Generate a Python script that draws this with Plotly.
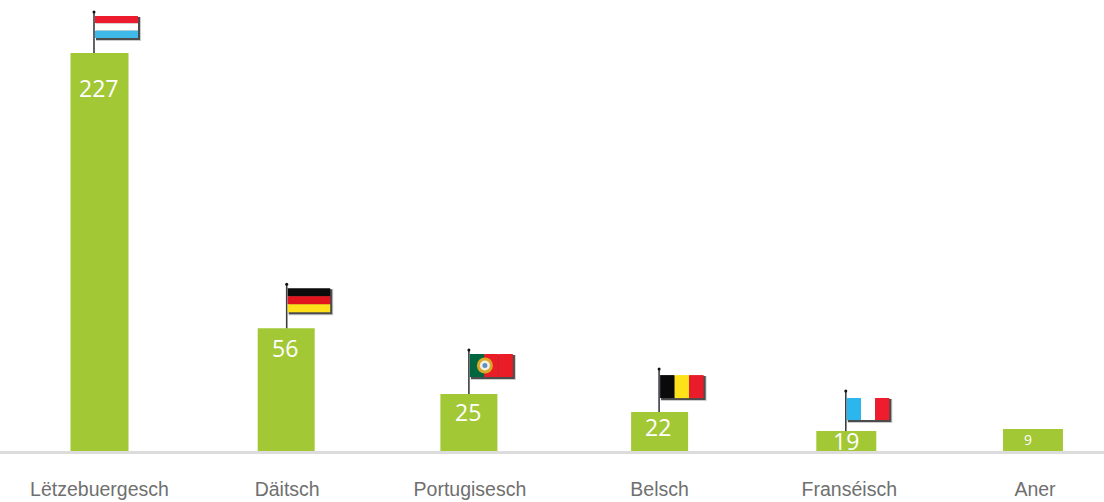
import plotly.graph_objects as go

# Data
categories = ["Lëtzebuergesch", "Däitsch", "Portugisesch", "Belsch", "Franséisch", "Aner"]
printed_values = [227, 56, 25, 22, 19, 9]
# The drawn bars are not proportional to the printed numbers: these are the heights as drawn
drawn_heights = [227, 70, 32.5, 22.2, 11.4, 12.5]

# Style / layout
W, H = 1104, 502
BASE = 451
BAR = "#a3c836"
PX_PER_UNIT = 398 / 227
CENTRE0, STEP = 99.5, 186.7
bar_shift_px = [0, 0, -4, 0, 0, 0]
bar_width_px = [58, 57, 57, 57, 60, 60]
tick_shift_px = [0, 1, -3, 0, 3, 2]
label_shift_px = [-1, -1, -5, -2, 0, -5]
label_below_top = [35, 20, 18, 15, 10, 10]
label_size = [23, 23, 23, 23, 23, 14]
label_font = "Open Sans"

x_range = [-CENTRE0 / STEP, (W - CENTRE0) / STEP]

fig = go.Figure(go.Bar(
    x=list(range(len(categories))),
    y=drawn_heights,
    width=[w / STEP for w in bar_width_px],
    offset=[(s - w / 2) / STEP for s, w in zip(bar_shift_px, bar_width_px)],
    marker=dict(color=BAR, line=dict(width=0)),
    hoverinfo="skip",
))

shapes = []
def rect(i, dx0, dx1, dy0, dy1, color, opacity=1.0):
    s = bar_shift_px[i]
    shapes.append(dict(type="rect", xref="x", yref="y", xsizemode="pixel", ysizemode="pixel",
                       xanchor=i, yanchor=drawn_heights[i], x0=dx0 + s, x1=dx1 + s, y0=dy0, y1=dy1,
                       fillcolor=color, opacity=opacity, line=dict(width=0)))
def disc(i, cx, cy, r, color):
    s = bar_shift_px[i]
    shapes.append(dict(type="circle", xref="x", yref="y", xsizemode="pixel", ysizemode="pixel",
                       xanchor=i, yanchor=drawn_heights[i], x0=cx - r + s, x1=cx + r + s,
                       y0=cy - r, y1=cy + r, fillcolor=color, line=dict(width=0)))
def pole(i, dx, top):
    rect(i, dx - 0.8, dx + 0.8, 0, top, "#3a3e42")
    disc(i, dx, top, 1.5, "#111111")
def shadow(i, x0, x1, y0, y1):
    rect(i, x0 + 1, x1 + 3, y0 - 3, y1 - 1, "#555555", 0.3)
    rect(i, x0 + 1, x1 + 2, y0 - 2, y1 - 1, "#222222", 0.75)
def h_flag(i, x0, x1, y0, y1, colors):
    shadow(i, x0, x1, y0, y1)
    n = len(colors)
    for k, c in enumerate(colors):
        rect(i, x0, x1, y1 - (y1 - y0) * (k + 1) / n, y1 - (y1 - y0) * k / n, c)
def v_flag(i, x0, x1, y0, y1, colors):
    shadow(i, x0, x1, y0, y1)
    n = len(colors)
    for k, c in enumerate(colors):
        rect(i, x0 + (x1 - x0) * k / n, x0 + (x1 - x0) * (k + 1) / n, y0, y1, c)

# Luxembourg
pole(0, -5.5, 41)
h_flag(0, -4.5, 38.5, 15, 37, ["#ec1c2e", "#ffffff", "#3fb9e8"])
# Germany
pole(1, 0.5, 44)
h_flag(1, 1.5, 44, 16, 40, ["#0c0c0c", "#e2151f", "#ffe01b"])
# Portugal
pole(2, 0, 44)
v_flag(2, 1, 44, 17, 40, ["#00663f", "#ea1c26", "#ea1c26"])
for r, col in [(8, "#d9a72a"), (5, "#f3f0e4"), (2.5, "#5f8fc8")]:
    disc(2, 16, 28.5, r, col)
# Belgium
pole(3, -0.5, 43)
v_flag(3, 0.5, 44, 14, 37, ["#0a0a0a", "#fde21a", "#e81c2a"])
# France
pole(4, -0.5, 40)
v_flag(4, 0.5, 43, 11, 33, ["#2cb6ee", "#ffffff", "#ee1c2c"])

annotations = [
    dict(x=i, y=drawn_heights[i], xref="x", yref="y", text=str(v), showarrow=False,
         xshift=label_shift_px[i], yshift=-label_below_top[i],
         yanchor="middle", font=dict(family=label_font, size=label_size[i], color="#ffffff"))
    for i, v in enumerate(printed_values)
]

fig.update_layout(
    width=W, height=H,
    margin=dict(l=0, r=0, t=0, b=H - BASE),
    paper_bgcolor="#ffffff", plot_bgcolor="#ffffff",
    showlegend=False, shapes=shapes, annotations=annotations,
    xaxis=dict(range=x_range, tickmode="array",
               tickvals=[i + s / STEP for i, s in enumerate(tick_shift_px)],
               ticktext=categories, showgrid=False, zeroline=False, showline=True,
               linecolor="#dcdcdc", linewidth=3, ticks="outside", ticklen=19,
               tickcolor="rgba(0,0,0,0)", fixedrange=True,
               tickfont=dict(family="Liberation Sans", size=19.5, color="#6f6f6f")),
    yaxis=dict(range=[0, BASE / PX_PER_UNIT], visible=False, fixedrange=True),
)
fig.write_html("out.html", config={"displayModeBar": False},
               post_script="document.body.style.margin='0';")
